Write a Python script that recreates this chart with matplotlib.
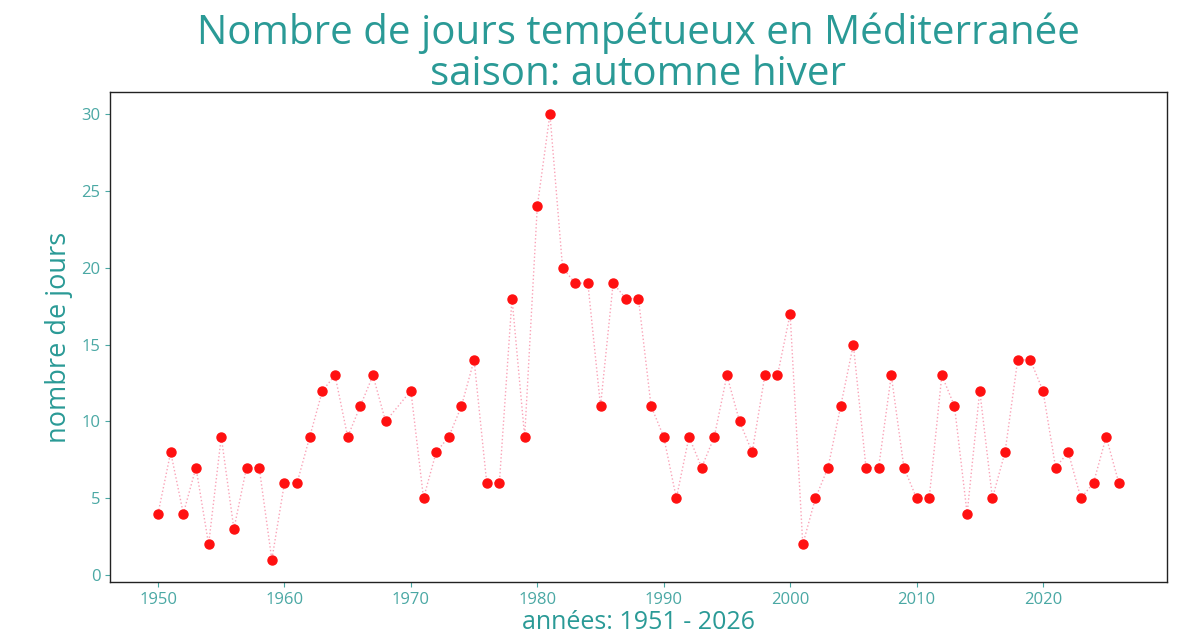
import matplotlib
matplotlib.use("Agg")
import matplotlib.pyplot as plt

years = [1950, 1951, 1952, 1953, 1954, 1955, 1956, 1957, 1958, 1959,
         1960, 1961, 1962, 1963, 1964, 1965, 1966, 1967, 1968,
         1970, 1971, 1972, 1973, 1974, 1975, 1976, 1977, 1978, 1979,
         1980, 1981, 1982, 1983, 1984, 1985, 1986, 1987, 1988, 1989,
         1990, 1991, 1992, 1993, 1994, 1995, 1996, 1997, 1998, 1999,
         2000, 2001, 2002, 2003, 2004, 2005, 2006, 2007, 2008, 2009,
         2010, 2011, 2012, 2013, 2014, 2015, 2016, 2017, 2018, 2019,
         2020, 2021, 2022, 2023, 2024, 2025, 2026]
days = [4, 8, 4, 7, 2, 9, 3, 7, 7, 1,
        6, 6, 9, 12, 13, 9, 11, 13, 10,
        12, 5, 8, 9, 11, 14, 6, 6, 18, 9,
        24, 30, 20, 19, 19, 11, 19, 18, 18, 11,
        9, 5, 9, 7, 9, 13, 10, 8, 13, 13,
        17, 2, 5, 7, 11, 15, 7, 7, 13, 7,
        5, 5, 13, 11, 4, 12, 5, 8, 14, 14,
        12, 7, 8, 5, 6, 9, 6]

title = "Nombre de jours tempétueux en Méditerranée\nsaison: automne hiver"
xlabel = "années: 1951 - 2026"
ylabel = "nombre de jours"

TEAL = "#2a9a96"
TICK = "#4aa8a4"
plt.rcParams['font.family'] = ['Open Sans', 'DejaVu Sans']

fig = plt.figure(figsize=(11.88, 6.38), dpi=100)
ax = fig.add_axes([0.0926, 0.0878, 0.8896, 0.7682])
ax.plot(years, days, linestyle=':', color=(0.95, 0.1, 0.3, 0.4), lw=1.0, zorder=1)
ax.plot(years, days, linestyle='none', marker='o', color='#ff1010',
        markersize=6.5, zorder=2)

ax.set_title(title, fontsize=29, color=TEAL, y=1.014, pad=0, linespacing=1.03)
ax.set_xlabel(xlabel, fontsize=18, color=TEAL, labelpad=2)
ax.set_ylabel(ylabel, fontsize=19.5, color=TEAL, labelpad=6)
ax.tick_params(axis='both', colors=TICK, labelsize=12)
for s in ax.spines.values():
    s.set_color('#222222')
    s.set_linewidth(1.0)

fig.savefig("out.png", dpi=100)
